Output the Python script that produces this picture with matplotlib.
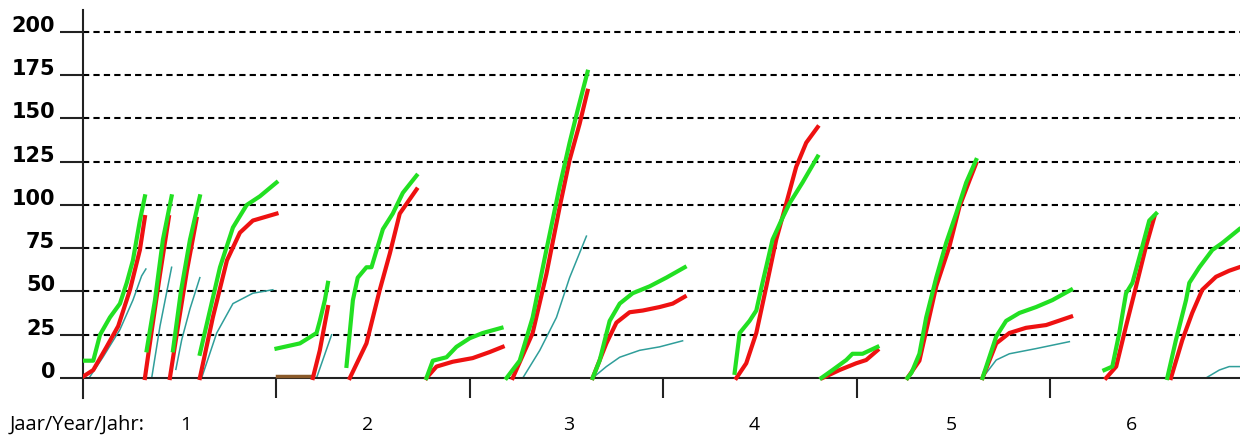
import matplotlib
matplotlib.use("Agg")
import matplotlib.pyplot as plt

# x in years since start, y = cumulative count
green_x = [
    [0.00, 0.053, 0.088, 0.139, 0.191, 0.226, 0.258, 0.294, 0.320],
    [0.329, 0.372, 0.413, 0.458],
    [0.465, 0.506, 0.553, 0.604],
    [0.604, 0.656, 0.708, 0.775, 0.846, 0.914, 1.000],
    [1.000, 1.121, 1.207, 1.224, 1.250, 1.266],
    [1.362, 1.395, 1.420, 1.465, 1.491, 1.550, 1.601, 1.653, 1.724],
    [1.775, 1.808, 1.879, 1.930, 1.999, 2.066, 2.163],
    [2.189, 2.257, 2.324, 2.395, 2.464, 2.515, 2.557, 2.608],
    [2.634, 2.670, 2.722, 2.774, 2.841, 2.929, 3.015, 3.110],
    [3.368, 3.394, 3.445, 3.480, 3.512, 3.564, 3.609, 3.652, 3.719, 3.797],
    [3.816, 3.874, 3.945, 3.977, 4.029, 4.106],
    [4.261, 4.282, 4.323, 4.358, 4.410, 4.461, 4.513, 4.565, 4.616],
    [4.649, 4.720, 4.771, 4.840, 4.926, 5.010, 5.107],
    [5.279, 5.320, 5.356, 5.391, 5.424, 5.475, 5.511, 5.546],
    [5.604, 5.649, 5.701, 5.718, 5.770, 5.837, 5.888, 5.976],
]
green_y = [
    [10, 10, 25, 35, 43, 55, 68, 91, 105],
    [16, 45, 80, 105],
    [16, 50, 80, 105],
    [14, 39, 64, 87, 100, 105, 113],
    [17, 20, 26, 33, 45, 55],
    [7, 45, 58, 64, 64, 86, 95, 107, 117],
    [0, 10, 12, 18, 23, 26, 29],
    [0, 10, 35, 74, 111, 136, 155, 177],
    [0, 10, 33, 43, 49, 53, 58, 64],
    [3, 26, 33, 39, 55, 80, 91, 101, 113, 128],
    [0, 4.6, 10.4, 14, 14, 18],
    [0, 3, 14, 35, 58, 78, 95, 113, 126],
    [0, 24, 33, 37.6, 41, 45, 51],
    [4.6, 6.6, 26, 49, 55, 76, 91, 95],
    [0, 22, 45, 55, 64, 74, 78, 86],
]

red_x = [
    [0.00, 0.053, 0.122, 0.182, 0.243, 0.294, 0.320],
    [0.320, 0.356, 0.398, 0.444],
    [0.449, 0.491, 0.537, 0.587],
    [0.604, 0.671, 0.744, 0.811, 0.878, 1.000],
    [1.188, 1.224, 1.266],
    [1.379, 1.465, 1.534, 1.586, 1.637, 1.724],
    [1.775, 1.827, 1.911, 2.014, 2.102, 2.169],
    [2.221, 2.324, 2.395, 2.464, 2.515, 2.567, 2.608],
    [2.634, 2.705, 2.757, 2.825, 2.893, 2.980, 3.048, 3.110],
    [3.377, 3.428, 3.480, 3.532, 3.583, 3.635, 3.686, 3.738, 3.797],
    [3.822, 3.910, 3.996, 4.048, 4.106],
    [4.261, 4.323, 4.410, 4.478, 4.530, 4.581, 4.616],
    [4.649, 4.720, 4.788, 4.874, 4.978, 5.107],
    [5.288, 5.340, 5.391, 5.443, 5.494, 5.537],
    [5.623, 5.682, 5.733, 5.785, 5.856, 5.924, 5.976],
]
red_y = [
    [0.8, 4.6, 18, 30, 51, 74, 93],
    [0, 28, 60, 93],
    [0, 30, 62, 92],
    [0, 35, 68, 84, 91, 95],
    [0, 16, 41],
    [0, 20, 51, 72, 95, 109],
    [0, 6.6, 9.4, 11.5, 15, 18],
    [0, 26, 60, 99, 126, 147, 166],
    [0, 20, 32, 38, 39, 41, 43, 47],
    [0, 8.5, 26, 53, 80, 101, 122, 136, 145],
    [0, 4.6, 8.5, 10.4, 16],
    [0, 10, 53, 76, 99, 114, 124],
    [0, 20, 26, 29, 30.6, 35.5],
    [0, 6.6, 30, 53, 76, 93],
    [0, 22, 37.6, 51, 58.5, 62, 64],
]

teal_x = [
    [0.036, 0.103, 0.191, 0.258, 0.303, 0.325],
    [0.355, 0.398, 0.458],
    [0.480, 0.510, 0.553, 0.604],
    [0.613, 0.691, 0.775, 0.878, 0.981],
    [1.207, 1.285],
    [2.273, 2.361, 2.447, 2.515, 2.602],
    [2.634, 2.705, 2.774, 2.877, 2.980, 3.099],
    [4.649, 4.720, 4.788, 4.926, 5.098],
    [5.604, 5.804, 5.873, 5.924, 5.976],
]
teal_y = [
    [0.8, 12, 28, 45, 59, 63],
    [0, 30, 64],
    [5, 22, 40, 58],
    [0, 26, 43, 49, 51],
    [0, 25],
    [0, 16, 35, 58, 82],
    [0, 6.6, 12, 16, 18, 21.5],
    [0, 10.4, 14, 17, 21],
    [0, 0, 4.6, 6.6, 6.6],
]

brown_x = [1.002, 1.188]
brown_y = [1, 1]

y_ticks = [0, 25, 50, 75, 100, 125, 150, 175, 200]
year_names = ["1", "2", "3", "4", "5", "6"]
year_label_x = [0.53, 1.47, 2.51, 3.47, 4.49, 5.42]

fig = plt.figure(figsize=(12.4, 4.38), dpi=100)
ax = fig.add_axes([83 / 1240, 40 / 438, 1 - 83 / 1240, 388 / 438])

for y in y_ticks[1:]:
    ax.axhline(y, color="black", lw=1.5, dashes=(3, 2), zorder=1)

for xs, ys in zip(teal_x, teal_y):
    ax.plot(xs, ys, color="#2f9e9a", lw=1.1, zorder=2)
ax.plot(brown_x, brown_y, color="#8a5a2a", lw=2.5, zorder=3)
for xs, ys in zip(red_x, red_y):
    ax.plot(xs, ys, color="#ee1111", lw=3, zorder=3)
for xs, ys in zip(green_x, green_y):
    ax.plot(xs, ys, color="#22e022", lw=3, zorder=4)

ax.set_xlim(0, 5.98)
ax.set_ylim(-11.56, 212.7)

ax.spines["top"].set_visible(False)
ax.spines["right"].set_visible(False)
ax.spines["bottom"].set_position(("data", 0))
ax.spines["left"].set_linewidth(1.5)
ax.spines["bottom"].set_linewidth(1.5)
ax.spines["left"].set_color("#222222")
ax.spines["bottom"].set_color("#222222")

ax.set_yticks(y_ticks)
ax.set_yticklabels([str(v) for v in y_ticks], fontsize=15, fontweight="bold",
                   family="DejaVu Sans")
for lab in ax.get_yticklabels():
    lab.set_verticalalignment("baseline")
ax.tick_params(axis="y", direction="out", length=16.5, width=1.5, pad=3.5,
               color="#222222")

ax.set_xticks([1, 2, 3, 4, 5])
ax.set_xticklabels([])
ax.tick_params(axis="x", direction="out", length=14.4, width=1.5, color="#222222")

for xp, name in zip(year_label_x, year_names):
    ax.text(xp, -27, name, ha="center", va="center", fontsize=14,
            family="Open Sans", clip_on=False)
fig.text(10 / 1240, 1 - 425 / 438, "Jaar/Year/Jahr:", ha="left", va="center",
         fontsize=14.5, family="Open Sans")

fig.savefig("out.png", dpi=100)
